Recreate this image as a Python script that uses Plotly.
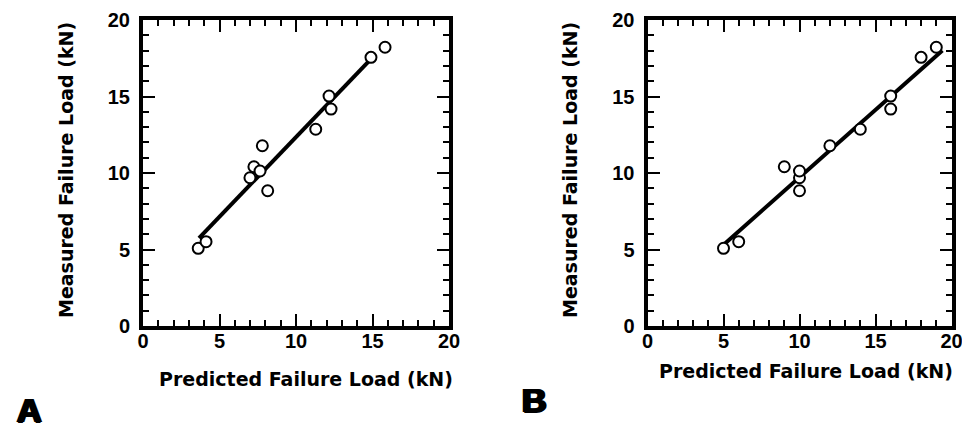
import plotly.graph_objects as go

# Data
measured = [5.08, 5.51, 9.69, 10.41, 10.13, 11.78, 8.84, 12.86, 15.03, 14.18, 17.56, 18.22]
predicted_a = [3.61, 4.12, 6.99, 7.25, 7.65, 7.80, 8.15, 11.29, 12.16, 12.29, 14.90, 15.82]
predicted_b = [5, 6, 10, 9, 10, 12, 10, 14, 16, 16, 18, 19]
fit_a_x = [3.66, 14.97]
fit_a_y = [5.75, 17.52]
fit_b_x = [5.1, 19.4]
fit_b_y = [5.4, 18.0]
tick_vals = [0, 5, 10, 15, 20]
tick_text = ["0", "5", "10", "15", "20"]
x_title = "Predicted Failure Load (kN)"
y_title = "Measured Failure Load (kN)"
panel_labels = ["A", "B"]

FONT = "Liberation Sans"
TFONT = "DejaVu Sans"
OFF = 8  # default page body margin
W, H = 970 - OFF, 425 - OFF

fig = go.Figure()

marker = dict(symbol="circle", size=11, color="white", line=dict(color="black", width=2))
for i, (px, fx, fy) in enumerate([(predicted_a, fit_a_x, fit_a_y), (predicted_b, fit_b_x, fit_b_y)]):
    xa = "x" if i == 0 else "x2"
    ya = "y" if i == 0 else "y2"
    fig.add_trace(go.Scatter(x=fx, y=fy, mode="lines", line=dict(color="black", width=4),
                             xaxis=xa, yaxis=ya, showlegend=False, hoverinfo="skip"))
    fig.add_trace(go.Scatter(x=px, y=measured, mode="markers", marker=marker,
                             xaxis=xa, yaxis=ya, showlegend=False))

def axis_style(domain, anchor, standoff):
    return dict(
        domain=domain, anchor=anchor, range=[0, 20],
        tickmode="array", tickvals=tick_vals, ticktext=tick_text,
        ticks="inside", ticklen=12, tickwidth=2, tickcolor="black",
        minor=dict(ticks="inside", ticklen=6, tickwidth=2, tickcolor="black", dtick=1, showgrid=False),
        showline=True, linewidth=4, linecolor="black", mirror="allticks",
        showgrid=False, zeroline=False, automargin=False,
        ticklabelstandoff=standoff,
        tickfont=dict(family=FONT, size=20, color="black", weight="bold"),
        fixedrange=True,
    )

def fx_(p):
    return (p - OFF) / W

def fy_(p):
    return 1 - (p - OFF) / H

ydom = [fy_(326), fy_(20)]
xdom_a = [fx_(143), fx_(449)]
xdom_b = [fx_(647.5), fx_(951.5)]

fig.update_layout(
    width=W, height=H, autosize=False,
    margin=dict(l=0, r=0, t=0, b=0, pad=0, autoexpand=False),
    paper_bgcolor="white", plot_bgcolor="white",
    xaxis=axis_style(xdom_a, "y", -6),
    yaxis=axis_style(ydom, "x", 5),
    xaxis2=axis_style(xdom_b, "y2", -6),
    yaxis2=axis_style(ydom, "x2", 5),
)

ann = []
title_font = dict(family=TFONT, size=19, color="black", weight="bold")
for cx, cy in [(306, 379), (806, 371)]:
    ann.append(dict(text=x_title, x=fx_(cx), y=fy_(cy), xref="paper", yref="paper",
                    showarrow=False, font=title_font, xanchor="center", yanchor="middle"))
for cx, cy in [(66, 170), (570, 170)]:
    ann.append(dict(text=y_title, x=fx_(cx), y=fy_(cy), xref="paper", yref="paper",
                    showarrow=False, font=title_font, textangle=-90, xanchor="center", yanchor="middle"))
for lab, (cx, cy) in zip(panel_labels, [(29, 410), (534, 400)]):
    ann.append(dict(text=lab, x=fx_(cx), y=fy_(cy), xref="paper", yref="paper",
                    showarrow=False,
                    font=dict(family=FONT, size=34, color="black", weight="bold",
                              shadow="1.5px 0 0 black, -1.5px 0 0 black, 0 1px 0 black"),
                    xanchor="center", yanchor="middle"))
fig.update_layout(annotations=ann)

fig.write_html("out.html")
